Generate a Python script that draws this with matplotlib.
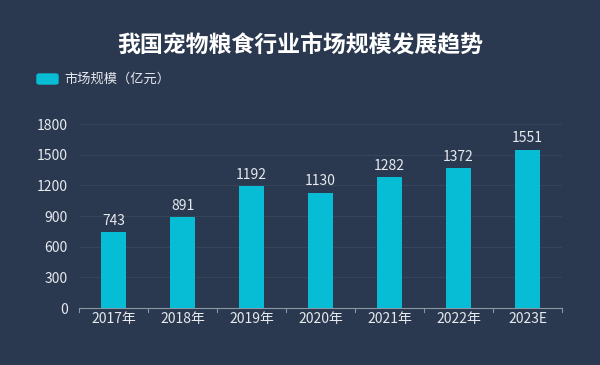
import matplotlib.pyplot as plt
from matplotlib.patches import FancyBboxPatch

plt.rcParams['font.family'] = ['Noto Sans CJK SC', 'DejaVu Sans']

years = ['2017年', '2018年', '2019年', '2020年', '2021年', '2022年', '2023E']
values = [743, 891, 1192, 1130, 1282, 1372, 1551]
yticks = [0, 300, 600, 900, 1200, 1500, 1800]

BG = '#2b3950'
BAR = '#06bdd5'
TXT = '#e6e9ee'

fig = plt.figure(figsize=(6, 3.65), dpi=100, facecolor=BG)
ax = fig.add_axes([0.1317, 0.156, 0.805, 0.504], facecolor=BG)

x = list(range(len(years)))
ax.bar(x, values, width=0.36, color=BAR, zorder=3)
for xi, v in zip(x, values):
    ax.text(xi, v + 40, str(v), ha='center', va='bottom', color=TXT, fontsize=10)

ax.set_xlim(-0.5, len(years) - 0.5)
ax.set_ylim(0, 1800)
ax.set_yticks(yticks)
ax.set_yticklabels([str(t) for t in yticks], color=TXT, fontsize=10)
ax.set_xticks(x)
ax.set_xticklabels(years, color=TXT, fontsize=10)
ax.tick_params(axis='y', length=0, pad=8)
ax.tick_params(axis='x', length=0, pad=3)
# separators between categories on the axis
for b in [i - 0.5 for i in range(len(years) + 1)]:
    ax.plot([b, b], [0, -0.02], transform=ax.get_xaxis_transform(), color='#8a95a5',
            lw=0.8, clip_on=False)

for yv in yticks[1:]:
    ax.axhline(yv, color='#36445a', lw=0.8, zorder=1)

for s in ['top', 'right', 'left']:
    ax.spines[s].set_visible(False)
ax.spines['bottom'].set_color('#8a95a5')
ax.spines['bottom'].set_linewidth(0.8)

fig.text(0.5, 1 - 45 / 365, '我国宠物粮食行业市场规模发展趋势', ha='center', va='center',
         color='white', fontsize=16.5, fontweight='bold')

fig.patches.append(FancyBboxPatch((37 / 600, 1 - 84 / 365), 21 / 600, 10 / 365,
                                  boxstyle='round,pad=0,rounding_size=0.004',
                                  transform=fig.transFigure, color=BAR))
fig.text(64 / 600, 1 - 79 / 365, '市场规模（亿元）', ha='left', va='center',
         color=TXT, fontsize=9.5)

fig.savefig('out.png', dpi=100, facecolor=BG)
